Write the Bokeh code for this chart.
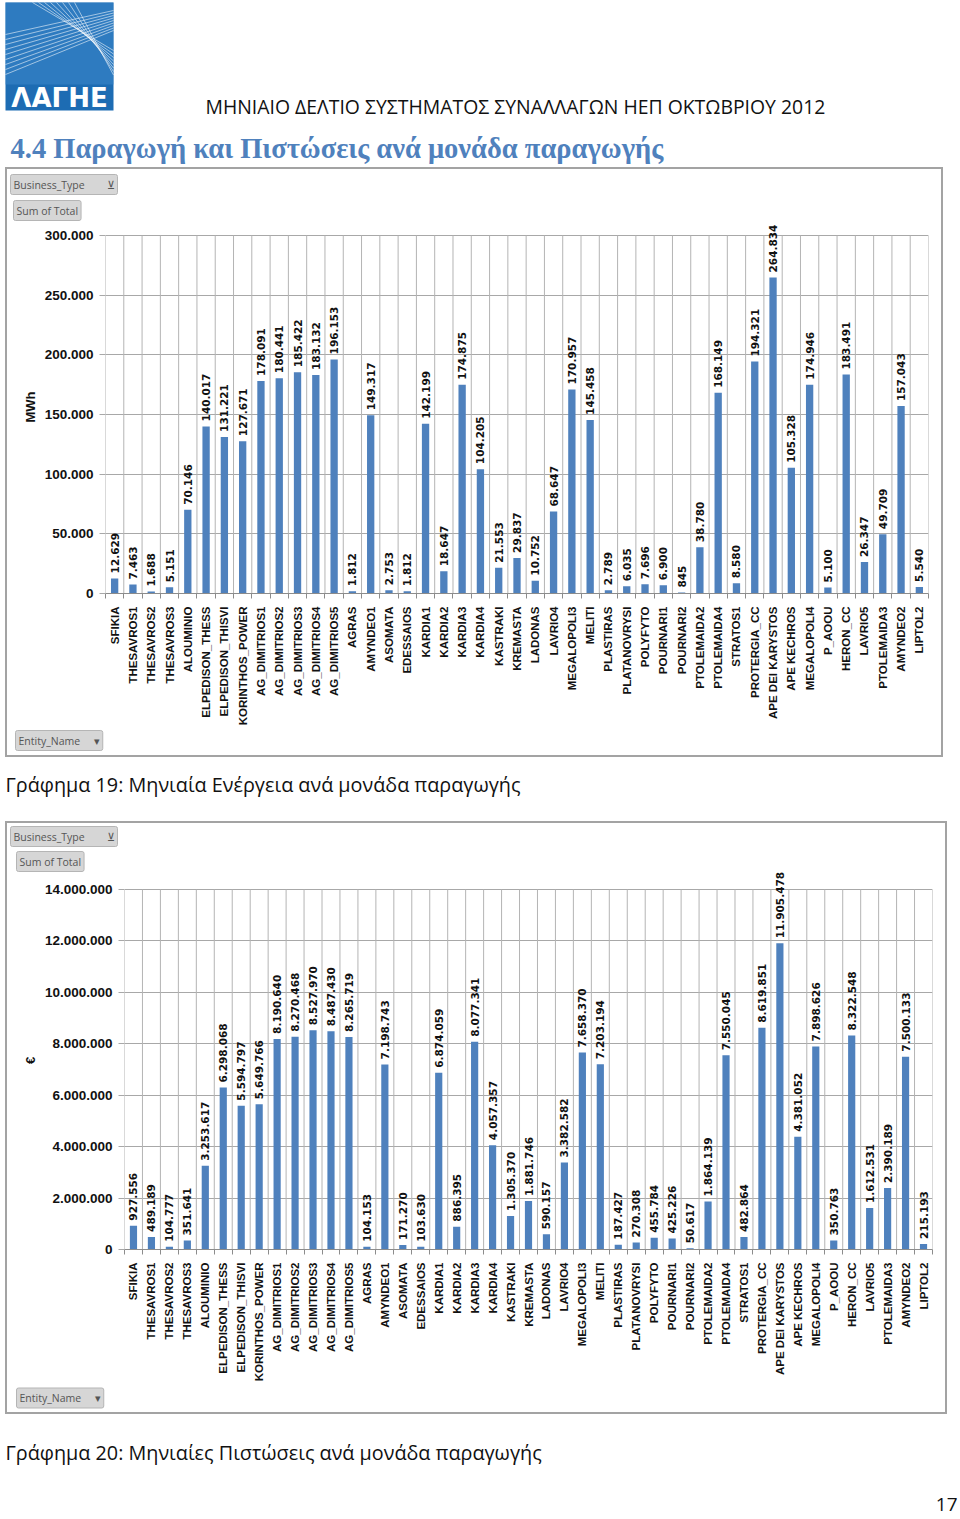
import math
from bokeh.plotting import figure
from bokeh.models import Range1d, FixedTicker, Title, ColumnDataSource
from bokeh.layouts import column
from bokeh.embed import file_html
from bokeh.resources import INLINE
from bokeh.core.properties import value

# ---------------- data ----------------
units = ["SFIKIA", "THESAVROS1", "THESAVROS2", "THESAVROS3", "ALOUMINIO",
         "ELPEDISON_THESS", "ELPEDISON_THISVI", "KORINTHOS_POWER",
         "AG_DIMITRIOS1", "AG_DIMITRIOS2", "AG_DIMITRIOS3", "AG_DIMITRIOS4",
         "AG_DIMITRIOS5", "AGRAS", "AMYNDEO1", "ASOMATA", "EDESSAIOS",
         "KARDIA1", "KARDIA2", "KARDIA3", "KARDIA4", "KASTRAKI", "KREMASTA",
         "LADONAS", "LAVRIO4", "MEGALOPOLI3", "MELITI", "PLASTIRAS",
         "PLATANOVRYSI", "POLYFYTO", "POURNARI1", "POURNARI2", "PTOLEMAIDA2",
         "PTOLEMAIDA4", "STRATOS1", "PROTERGIA_CC", "APE DEI KARYSTOS",
         "APE KECHROS", "MEGALOPOLI4", "P_AOOU", "HERON_CC", "LAVRIO5",
         "PTOLEMAIDA3", "AMYNDEO2", "LIPTOL2"]

energy_mwh = [12629, 7463, 1688, 5151, 70146, 140017, 131221, 127671, 178091,
              180441, 185422, 183132, 196153, 1812, 149317, 2753, 1812, 142199,
              18647, 174875, 104205, 21553, 29837, 10752, 68647, 170957, 145458,
              2789, 6035, 7696, 6900, 845, 38780, 168149, 8580, 194321, 264834,
              105328, 174946, 5100, 183491, 26347, 49709, 157043, 5540]

credits_eur = [927556, 489189, 104777, 351641, 3253617, 6298068, 5594797,
               5649766, 8190640, 8270468, 8527970, 8487430, 8265719, 104153,
               7198743, 171270, 103630, 6874059, 886395, 8077341, 4057357,
               1305370, 1881746, 590157, 3382582, 7658370, 7203194, 187427,
               270308, 455784, 425226, 50617, 1864139, 7550045, 482864, 8619851,
               11905478, 4381052, 7898626, 350763, 8322548, 1612531, 2390189,
               7500133, 215193]

energy_ticks = [0, 50000, 100000, 150000, 200000, 250000, 300000]
energy_tick_labels = ["0", "50.000", "100.000", "150.000", "200.000", "250.000", "300.000"]
credit_ticks = [0, 2000000, 4000000, 6000000, 8000000, 10000000, 12000000, 14000000]
credit_tick_labels = ["0", "2.000.000", "4.000.000", "6.000.000", "8.000.000",
                      "10.000.000", "12.000.000", "14.000.000"]

header_text = "ΜΗΝΙΑΙΟ ΔΕΛΤΙΟ ΣΥΣΤΗΜΑΤΟΣ ΣΥΝΑΛΛΑΓΩΝ ΗΕΠ ΟΚΤΩΒΡΙΟΥ 2012"
section_title = "4.4 Παραγωγή και Πιστώσεις ανά μονάδα παραγωγής"
caption1 = "Γράφημα 19:  Μηνιαία Ενέργεια ανά μονάδα παραγωγής"
caption2 = "Γράφημα 20:  Μηνιαίες Πιστώσεις ανά μονάδα παραγωγής"
page_number = "17"
logo_text = "ΛΑΓΗΕ"
NB = "\u00a0"
filter_button = "Business_Type" + NB * 8 + "⊻"
value_button = "Sum of Total"
axis_button = "Entity_Name" + NB * 5 + "▾"

BAR = "#4F81BD"
GRID = "#b4b4b4"
PAGE_W = 960


def fmt(v):
    return f"{v:,}".replace(",", ".")


def no_align(p):
    try:
        p.frame_align = False
    except Exception:
        pass


def text_fig(height):
    p = figure(width=PAGE_W, height=height, output_backend="svg", toolbar_location=None,
               x_range=Range1d(0, PAGE_W), y_range=Range1d(height, 0),
               x_axis_type=None, y_axis_type=None, min_border=0)
    p.outline_line_color = None
    p.background_fill_color = "white"
    no_align(p)
    return p


def button(p, side, offset, txt, standoff):
    t = Title(text=txt, align="left", offset=offset, standoff=standoff,
              text_font="Open Sans", text_font_size="10.5px", text_font_style="normal",
              text_color="#555555", background_fill_color="#d6d6d6",
              border_line_color="#b5b5b5")
    for k, v in (("padding", 3), ("border_radius", 2)):
        try:
            setattr(t, k, v)
        except Exception:
            pass
    p.add_layout(t, side)


def chart(values, ticks, tick_labels, ylabel, W, H, left, right, top_grid, zero_y, extra):
    n = len(units)
    pos = list(range(1, n + 1))
    bounds = [i + 0.5 for i in range(n + 1)]
    ymax = ticks[-1]
    plot_px = zero_y - top_grid
    y_end = ymax * (plot_px + extra) / plot_px
    p = figure(width=W, height=H, output_backend="svg", toolbar_location=None,
               x_range=Range1d(0.5, n + 0.5), y_range=Range1d(0, y_end),
               min_border_left=left, min_border_right=W - right,
               min_border_top=top_grid - extra, min_border_bottom=H - zero_y)
    no_align(p)
    p.outline_line_color = None
    p.border_fill_color = None
    p.margin = (0, 0, 0, 5)
    p.styles = {"box-shadow": "inset 0 0 0 2px #a3a3a3"}
    p.xgrid.visible = False
    p.ygrid.ticker = FixedTicker(ticks=ticks)
    p.ygrid.grid_line_color = "#a8a8a8"
    # vertical category separators
    p.segment(x0=bounds, y0=[0] * len(bounds), x1=bounds, y1=[ymax] * len(bounds),
              line_color=GRID, line_width=1)
    src = ColumnDataSource(dict(x=pos, top=values, lbl=[fmt(v) for v in values]))
    p.vbar(x="x", top="top", bottom=0, width=0.4, source=src,
           fill_color=BAR, line_color=None)
    p.text(x="x", y="top", text="lbl", source=src, angle=math.pi / 2,
           text_align="left", text_baseline="middle", y_offset=-5,
           text_font=value("DejaVu Sans"), text_font_style="bold",
           text_font_size="10.5px", text_color="#111111")
    # x axis
    xa = p.xaxis[0]
    xa.ticker = FixedTicker(ticks=pos, minor_ticks=bounds)
    xa.major_label_overrides = {i + 1: u for i, u in enumerate(units)}
    xa.major_label_orientation = math.pi / 2
    xa.major_tick_line_color = None
    xa.major_tick_out = 0
    xa.major_tick_in = 0
    xa.minor_tick_line_color = "#8c8c8c"
    xa.minor_tick_out = 5
    xa.minor_tick_in = 0
    xa.axis_line_color = "#8c8c8c"
    xa.major_label_standoff = 8
    xa.major_label_text_font = "Liberation Sans"
    xa.major_label_text_font_style = "bold"
    xa.major_label_text_font_size = "11.5px"
    xa.major_label_text_color = "#111111"
    # y axis
    ya = p.yaxis[0]
    ya.ticker = FixedTicker(ticks=ticks)
    ya.major_label_overrides = {t: l for t, l in zip(ticks, tick_labels)}
    ya.axis_line_color = None
    ya.major_tick_line_color = "#a8a8a8"
    ya.major_tick_out = 6
    ya.major_tick_in = 0
    ya.minor_tick_line_color = None
    ya.major_label_standoff = 6
    ya.major_label_text_font = "Liberation Sans"
    ya.major_label_text_font_style = "bold"
    ya.major_label_text_font_size = "13.5px"
    ya.major_label_text_color = "#111111"
    ya.axis_label = ylabel
    ya.axis_label_text_font = "Liberation Sans"
    ya.axis_label_text_font_style = "bold"
    ya.axis_label_text_font_size = "13px"
    ya.axis_label_text_color = "#111111"
    ya.axis_label_standoff = 4
    return p


# ---------------- header ----------------
hdr = text_fig(167)
hdr.quad(left=[5], right=[113], top=[2], bottom=[110], fill_color="#1d6cb3", line_color=None)
hdr.quad(left=[5], right=[113], top=[2], bottom=[84], fill_color="#3a86c8", line_color=None, fill_alpha=0.6)
fan_x0, fan_y0, fan_x1, fan_y1 = [], [], [], []
for k in range(9):
    fan_x0.append(113); fan_y0.append(10 + 2.5 * k); fan_x1.append(5); fan_y1.append(34 + 5 * k)
for k in range(8):
    fan_x0.append(32 + 6 * k); fan_y0.append(2); fan_x1.append(113); fan_y1.append(50 + 3.5 * k)
hdr.segment(x0=fan_x0, y0=fan_y0, x1=fan_x1, y1=fan_y1, line_color="white", line_alpha=0.55, line_width=1)
hdr.text(x=[59], y=[97], text=[logo_text], text_align="center", text_baseline="middle",
         text_font=value("DejaVu Sans"), text_font_style="bold", text_font_size="26px",
         text_color="white")
hdr.text(x=[205], y=[106], text=[header_text], text_align="left", text_baseline="middle",
         text_font=value("Open Sans"), text_font_size="19.4px", text_color="#111111")
hdr.text(x=[10], y=[148], text=[section_title], text_align="left", text_baseline="middle",
         text_font=value("Liberation Serif"), text_font_style="bold", text_font_size="28.5px",
         text_color="#4F81BD")

# ---------------- chart 1 ----------------
c1 = chart(energy_mwh, energy_ticks, energy_tick_labels, "MWh",
           W=938, H=590, left=100, right=923, top_grid=68, zero_y=426, extra=15)
button(c1, "above", -92, value_button, 0)
button(c1, "above", -95, filter_button, 8)
button(c1, "below", -90, axis_button, 0)

cap1 = text_fig(64)
cap1.text(x=[5], y=[27], text=[caption1], text_align="left", text_baseline="middle",
          text_font=value("Open Sans"), text_font_size="19.8px", text_color="#111111")

# ---------------- chart 2 ----------------
c2 = chart(credits_eur, credit_ticks, credit_tick_labels, "€",
           W=942, H=593, left=119, right=927, top_grid=68, zero_y=428, extra=18)
button(c2, "above", -108, value_button, 0)
button(c2, "above", -114, filter_button, 6)
button(c2, "below", -108, axis_button, 3)

cap2 = text_fig(104)
cap2.text(x=[5], y=[38], text=[caption2], text_align="left", text_baseline="middle",
          text_font=value("Open Sans"), text_font_size="19.8px", text_color="#111111")
cap2.text(x=[957], y=[90], text=[page_number], text_align="right", text_baseline="middle",
          text_font=value("Open Sans"), text_font_size="19px", text_color="#111111")

page = column(hdr, c1, cap1, c2, cap2, spacing=0)
no_align(page)
open("out.html", "w").write(file_html(page, INLINE))
